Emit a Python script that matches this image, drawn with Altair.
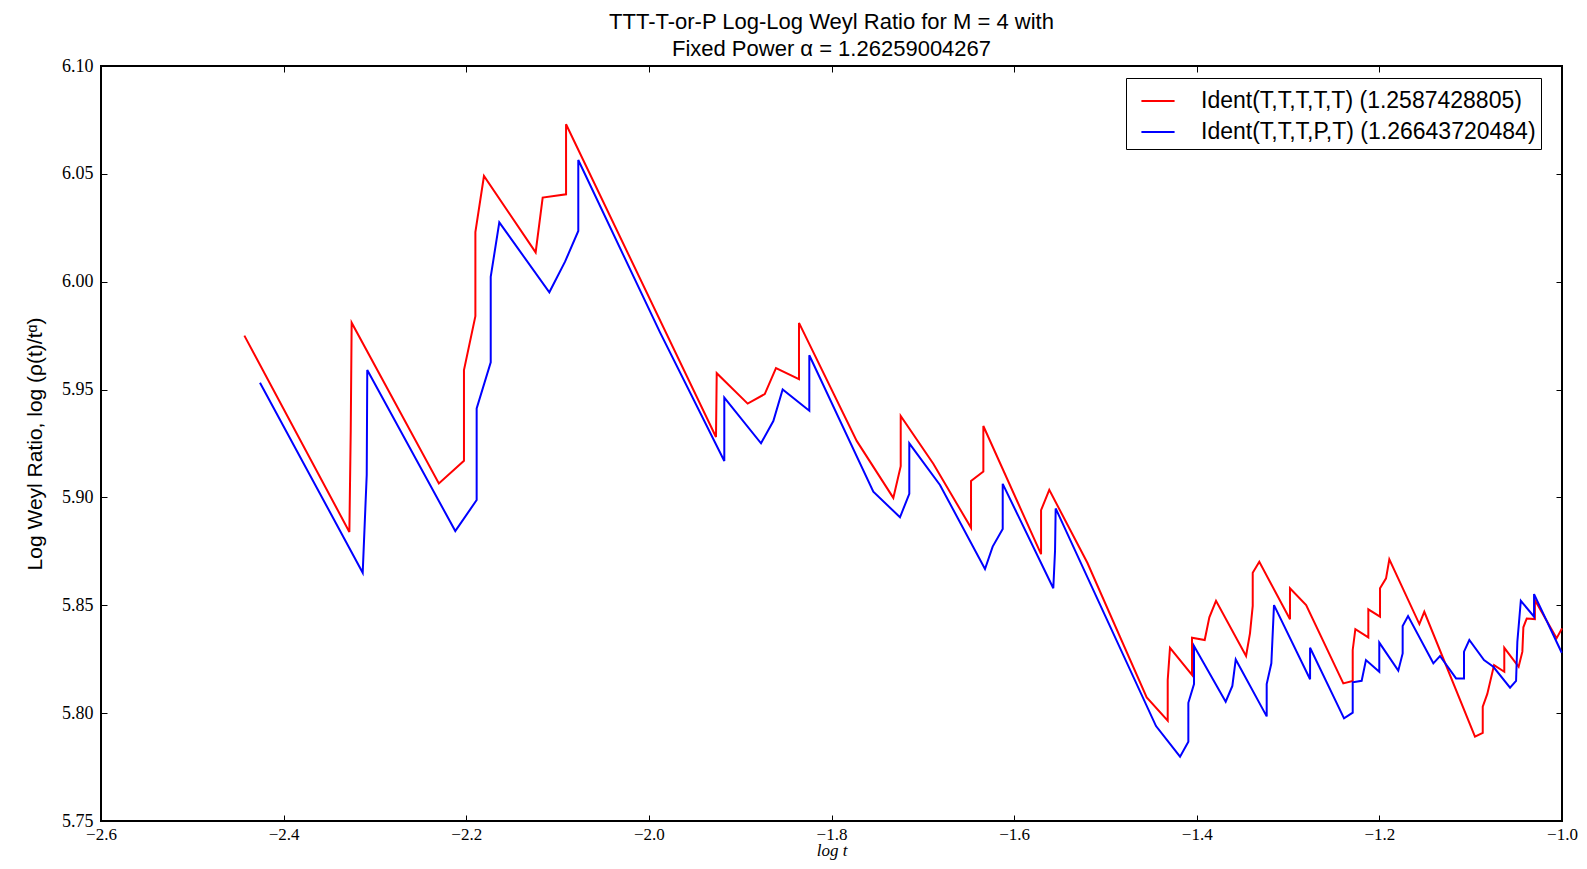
import altair as alt
import pandas as pd

red_label = "Ident(T,T,T,T,T) (1.2587428805)"
blue_label = "Ident(T,T,T,P,T) (1.26643720484)"

red_x = [-2.443, -2.328, -2.3265, -2.3255, -2.230, -2.2025, -2.2025, -2.190, -2.190, -2.1806,
         -2.124, -2.1163, -2.0907, -2.0907, -1.9265, -1.9257, -1.8918, -1.8731, -1.8608, -1.8356,
         -1.8356, -1.7724, -1.7323, -1.7242, -1.7242, -1.6885, -1.6472, -1.6472, -1.6337, -1.6337,
         -1.5705, -1.5705, -1.5615, -1.5198, -1.4548, -1.4318, -1.4318, -1.4293, -1.4052, -1.4052,
         -1.3913, -1.3862, -1.3789, -1.346, -1.3417, -1.3387, -1.3387, -1.3315, -1.2979, -1.2979,
         -1.2802, -1.2395, -1.2292, -1.2292, -1.2263, -1.2121, -1.2121, -1.1993, -1.1993, -1.1927,
         -1.1891, -1.1562, -1.1508, -1.0953, -1.0868, -1.0868, -1.0818, -1.0744, -1.0632, -1.0632,
         -1.0475, -1.0434, -1.0423, -1.0386, -1.0297, -1.0297, -1.0059, -1.0]
red_y = [5.975, 5.884, 5.931, 5.981, 5.9065, 5.917, 5.959, 5.984, 6.023, 6.049,
         6.0136, 6.039, 6.0405, 6.073, 5.928, 5.9576, 5.9435, 5.9479, 5.9599, 5.9548,
         5.9809, 5.9262, 5.8998, 5.9145, 5.9378, 5.9156, 5.8859, 5.9076, 5.912, 5.9331,
         5.8737, 5.8941, 5.9035, 5.8697, 5.8073, 5.7965, 5.8153, 5.8303, 5.8177, 5.835,
         5.8339, 5.8444, 5.8521, 5.8265, 5.837, 5.8497, 5.8651, 5.8702, 5.8435, 5.8579,
         5.8501, 5.8138, 5.8149, 5.8293, 5.8389, 5.8351, 5.8481, 5.8447, 5.8579, 5.8625,
         5.8713, 5.8413, 5.847, 5.7891, 5.7909, 5.803, 5.8089, 5.8223, 5.8192, 5.8303,
         5.8215, 5.8285, 5.8398, 5.8439, 5.8436, 5.8524, 5.8347, 5.8393]

blue_x = [-2.4259, -2.3134, -2.309, -2.3084, -2.212, -2.1886, -2.1886, -2.1732, -2.1732, -2.1638,
          -2.1090, -2.0918, -2.0773, -2.0773, -1.9878, -1.9174, -1.9174, -1.8772, -1.8637, -1.8535,
          -1.8243, -1.8243, -1.7542, -1.725, -1.7148, -1.7148, -1.6812, -1.6319, -1.6235, -1.6125,
          -1.6125, -1.5571, -1.5552, -1.5545, -1.4446, -1.4183, -1.4092, -1.4092, -1.403, -1.403,
          -1.3683, -1.361, -1.3573, -1.3234, -1.3234, -1.3183, -1.3154, -1.2759, -1.2759, -1.2387,
          -1.2292, -1.2292, -1.2194, -1.2147, -1.2001, -1.2001, -1.1793, -1.1745, -1.1745, -1.1686,
          -1.1409, -1.1336, -1.116, -1.1073, -1.1073, -1.1015, -1.0854, -1.0752, -1.0569, -1.0503,
          -1.0489, -1.0451, -1.0306, -1.0306, -1.0003]
blue_y = [5.9532, 5.8651, 5.9104, 5.9591, 5.8844, 5.8988, 5.9413, 5.9626, 6.0023, 6.0275,
          5.9951, 6.0093, 6.0235, 6.0564, 5.9765, 5.9169, 5.9463, 5.9251, 5.9354, 5.9501,
          5.9402, 5.9659, 5.9027, 5.8908, 5.9017, 5.9251, 5.9058, 5.8668, 5.8772, 5.8854,
          5.9063, 5.8579, 5.8753, 5.8949, 5.794, 5.7798, 5.7867, 5.8048, 5.8135, 5.8311,
          5.8053, 5.8126, 5.8249, 5.7985, 5.8135, 5.8231, 5.8501, 5.8157, 5.8303, 5.7976,
          5.8002, 5.8143, 5.815, 5.8246, 5.8192, 5.8327, 5.8197, 5.8277, 5.8404, 5.845,
          5.8231, 5.8265, 5.8161, 5.8161, 5.8285, 5.8339, 5.8246, 5.8215, 5.8118, 5.815,
          5.8331, 5.8521, 5.8447, 5.8552, 5.828]

x_ticks = [-2.6, -2.4, -2.2, -2.0, -1.8, -1.6, -1.4, -1.2, -1.0]
y_ticks = [5.75, 5.80, 5.85, 5.90, 5.95, 6.00, 6.05, 6.10]

rows = []
for i, (a, b) in enumerate(zip(red_x, red_y)):
    rows.append({"series": red_label, "x": a, "y": b, "i": i})
for i, (a, b) in enumerate(zip(blue_x, blue_y)):
    rows.append({"series": blue_label, "x": a, "y": b, "i": i})
df = pd.DataFrame(rows)

SERIF = "Liberation Serif"
SANS = "Liberation Sans"

xscale = alt.Scale(domain=[-2.6, -1.0], nice=False, zero=False)
yscale = alt.Scale(domain=[5.75, 6.10], nice=False, zero=False)
color = alt.Color("series:N",
                  scale=alt.Scale(domain=[red_label, blue_label], range=["#ff0000", "#0000ff"]),
                  legend=alt.Legend(title=None, orient="none", legendX=1025, legendY=12,
                                    symbolType="stroke", symbolSize=1100, symbolStrokeWidth=2,
                                    symbolOffset=9,
                                    labelFont=SANS, labelFontSize=23, labelColor="black",
                                    labelOffset=25, labelLimit=700,
                                    labelExpr="datum.label + '\u2003'",
                                    padding=5, rowPadding=1,
                                    strokeColor="black", fillColor="white"))

lines = alt.Chart(df).mark_line(strokeWidth=2).encode(
    x=alt.X("x:Q", scale=xscale,
            axis=alt.Axis(orient="bottom", values=x_ticks, format=".1f", offset=-6, tickSize=6,
                          domain=False, grid=False, labelPadding=5, labelFont=SERIF,
                          labelFontSize=17, labelColor="black", tickColor="black",
                          labelFlush=False,
                          title="log t", titleFont=SERIF, titleFontSize=17,
                          titleFontWeight="normal", titleFontStyle="italic", titlePadding=0,
                          titleColor="black")),
    y=alt.Y("y:Q", scale=yscale,
            axis=alt.Axis(orient="left", values=y_ticks, format=".2f", offset=-6, tickSize=6,
                          domain=False, grid=False, labelPadding=8, labelFont=SERIF,
                          labelFontSize=18, labelColor="black", tickColor="black",
                          labelFlush=False,
                          title="Log Weyl Ratio, log (ρ(t)/tᵅ)", titleFont=SANS,
                          titleFontSize=21, titleFontWeight="normal", titlePadding=16,
                          titleColor="black")),
    color=color,
    order="i:Q",
    detail="series:N",
)

mirror = alt.Chart(df).mark_line(opacity=0).encode(
    x=alt.X("x:Q", scale=xscale,
            axis=alt.Axis(orient="top", values=x_ticks, offset=-6, tickSize=6, domain=False,
                          grid=False, labels=False, title=None, tickColor="black")),
    y=alt.Y("y:Q", scale=yscale,
            axis=alt.Axis(orient="right", values=y_ticks, offset=-6, tickSize=6, domain=False,
                          grid=False, labels=False, title=None, tickColor="black")),
    detail="series:N",
)

chart = alt.layer(lines, mirror).resolve_axis(x="independent", y="independent").properties(
    width=1461,
    height=755,
    autosize=alt.AutoSizeParams(type="none"),
    padding={"left": 93, "top": 58, "right": 17, "bottom": 40},
    title=alt.TitleParams(
        text=["TTT-T-or-P Log-Log Weyl Ratio for M = 4 with", "Fixed Power α = 1.26259004267"],
        font=SANS, fontSize=22, fontWeight="normal", color="black",
        anchor="middle", offset=-4, lineHeight=27),
).configure(background="white").configure_view(stroke="black", strokeWidth=2)

chart.save("out.html", embed_options={"renderer": "svg", "actions": False})
